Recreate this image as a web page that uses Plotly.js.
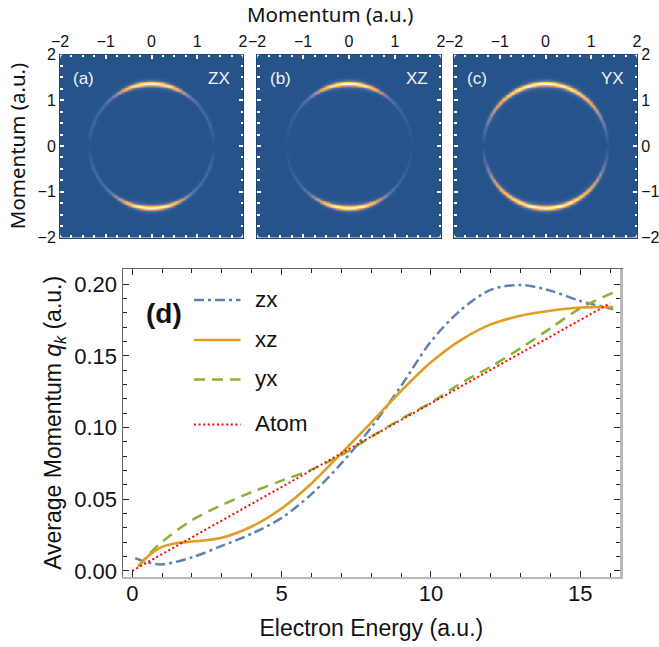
<!DOCTYPE html>
<html><head><meta charset="utf-8">
<script src="https://cdn.plot.ly/plotly-3.0.1.min.js"></script>
<style>html,body{margin:0;padding:0;background:#fff}#c{width:659px;height:647px}</style></head>
<body><div id="c"></div>
<script>
// ---- line panel (d) values
const zxE=[0.1,0.5,1,2,3,4,5,6,7,8,9,10,11,12,13,14,15,16.1];
const zxQ=[0.009,0.006,0.0046,0.0095,0.0175,0.026,0.037,0.0536,0.075,0.1,0.129,0.16,0.182,0.196,0.1994,0.1955,0.1883,0.1827];
const xzE=[0.2,0.6,1,1.5,2,3,4,5,6,7,8,9,10,11,12,13,14,15,16.1];
const xzQ=[0.0035,0.0115,0.0168,0.0195,0.0205,0.0232,0.031,0.0436,0.061,0.082,0.1035,0.1255,0.1455,0.161,0.172,0.178,0.1815,0.1837,0.1841];
const yxE=[0.2,0.6,1,2,3,4,5,6,7,8,9,10,11,12,13,14,15,16.1];
const yxQ=[0.003,0.0125,0.0204,0.0355,0.046,0.055,0.063,0.0707,0.0807,0.0935,0.106,0.1174,0.1309,0.1425,0.1553,0.1693,0.1832,0.1941];
const atomE=[0,1,5,7,10,16];
const atomQ=[0,0.0118,0.0587,0.082,0.117,0.1867];
const seriesNames=['zx','xz','yx','Atom'];
// ---- ring images: read brightness around the ring, its radial cross-section, faint inner rings
const ringDeg=[0,4,10,20,30,40,50,60,70,80,90];
const ampZX=[0,0.02,0.07,0.1,0.11,0.13,0.2,0.42,0.75,0.95,1];
const ampXZ=[0,0.01,0.03,0.05,0.08,0.11,0.19,0.4,0.75,0.95,1];
const ampYX=[0,0.04,0.11,0.2,0.36,0.52,0.66,0.8,0.9,0.97,1];
const ringRadius=1.355;
const crossDr=[-0.18,-0.12,-0.085,-0.06,-0.036,-0.018,0,0.018,0.036,0.06,0.085,0.12,0.18];
const crossW=[0,0.03,0.1,0.25,0.58,0.9,1,0.9,0.58,0.25,0.1,0.03,0];
const faintR=[0.55,0.7,0.85,0.97,1.07,1.16,1.24];
const faintZX=[0,0,0,0,0,0,0];
const faintXZ=[0.005,0.005,0.006,0.007,0.008,0.01,0.012];
const faintYX=[0.004,0.004,0.005,0.006,0.008,0.01,0.012];
const panelTags=['(a)','(b)','(c)'];
const panelNames=['ZX','XZ','YX'];

const W=659,H=647;
const fx=p=>p/W, fy=p=>1-p/H;
const FONT='Liberation Sans, Arial, sans-serif';
const HUM='"Noto Sans", sans-serif';

function lerp(xs,ys,x){
  if(x<=xs[0])return ys[0];
  for(let i=1;i<xs.length;i++) if(x<=xs[i]) return ys[i-1]+(ys[i]-ys[i-1])*(x-xs[i-1])/(xs[i]-xs[i-1]);
  return ys[ys.length-1];
}
function ringGrid(amp,faint){
  const n=241,ax=[],z=[];
  for(let i=0;i<n;i++)ax.push(-2+4*i/(n-1));
  for(const y of ax){const row=[];for(const x of ax){
    const r=Math.hypot(x,y),d=Math.abs(Math.atan2(y,x)*180/Math.PI),a=d>90?180-d:d;
    const am=lerp(ringDeg,amp,a);
    let v=am*Math.pow(lerp(crossDr,crossW,r-ringRadius),2-am);
    faint.forEach((f,k)=>{v+=f*Math.max(0,1-Math.abs(r-faintR[k])/0.025)});
    row.push(v);}z.push(row);}
  return {ax,z};
}
const scale=[[0,'#26538A'],[0.06,'#34609a'],[0.2,'#6578ae'],[0.35,'#b28f80'],[0.5,'#eaa23d'],[0.7,'#fcc663'],[0.88,'#ffe9b0'],[1,'#fff7dc']];
const panels=[[60,243,ampZX,faintZX],[257,441,ampXZ,faintXZ],[454,637,ampYX,faintYX]];
const topPx=54.5,botPx=237.5;
const layout={width:W,height:H,margin:{l:0,r:0,t:0,b:0},paper_bgcolor:'#fff',plot_bgcolor:'#fff',showlegend:false,annotations:[],shapes:[]};
const data=[];
panels.forEach((p,i)=>{
  const g=ringGrid(p[2],p[3]),k=i+1,xn='x'+k,yn='y'+k;
  data.push({type:'heatmap',x:g.ax,y:g.ax,z:g.z,xaxis:xn,yaxis:yn,colorscale:scale,zmin:0,zmax:1,showscale:false,hoverinfo:'skip'});
  const common={range:[-2,2],tick0:-2,dtick:1,ticks:'inside',ticklen:4,tickwidth:2,tickcolor:'#fff',
    minor:{tick0:-2,dtick:0.25,ticks:'inside',ticklen:2.5,tickwidth:2,tickcolor:'#fff'},showgrid:false,zeroline:false,
    showline:true,mirror:'ticks',linecolor:'#1d4478',linewidth:1,
    tickfont:{family:FONT,size:16,color:'#111'},layer:'above traces'};
  layout['xaxis'+k]=Object.assign({},common,{domain:[fx(p[0]),fx(p[1])],anchor:yn,side:'top',ticklabelstandoff:0});
  layout['yaxis'+k]=Object.assign({},common,{domain:[fy(botPx),fy(topPx)],anchor:xn,side:i===2?'right':'left',showticklabels:i!==1});
  // rounded picture corners
  const c=0.11,s=[[-2,2,1,-1],[2,2,-1,-1],[-2,-2,1,1],[2,-2,-1,1]];
  s.forEach(q=>{
    const a=q[0],b=q[1],dx=q[2]*c,dy=q[3]*c;
    layout.shapes.push({type:'path',xref:xn,yref:yn,layer:'above',line:{width:0},fillcolor:'#fff',
      path:`M${a},${b} L${a+dx},${b} Q${a},${b} ${a},${b+dy} Z`});
  });
  layout.annotations.push({xref:'paper',yref:'paper',x:fx(p[0]+11),y:fy(79),xanchor:'left',yanchor:'middle',showarrow:false,text:panelTags[i],font:{family:FONT,size:17,color:'#f2f2f2'}});
  layout.annotations.push({xref:'paper',yref:'paper',x:fx(p[1]-11),y:fy(79),xanchor:'right',yanchor:'middle',showarrow:false,text:panelNames[i],font:{family:FONT,size:17,color:'#f2f2f2'}});
});
layout.yaxis1.title={text:'Momentum (a.u.)',font:{family:HUM,size:20.5,color:'#111'},standoff:6};
layout.annotations.push({xref:'paper',yref:'paper',x:fx(330),y:fy(14),xanchor:'center',yanchor:'middle',showarrow:false,text:'Momentum (a.u.)',font:{family:HUM,size:20.5,color:'#111'}});

// ---- panel d
const L=122.7,R=620,T=269,B=576.7;
const xr=[-0.32,16.33],yr=[-0.004,0.2106];
const tickBase={showgrid:false,zeroline:false,ticks:'inside',tickwidth:1,tickcolor:'#222',ticklen:6};
const tf={family:FONT,size:22,color:'#111'};
const xMinor={tick0:0,dtick:1,ticks:'inside',ticklen:4,tickwidth:1,tickcolor:'#222'};
const yMinor={tick0:0,dtick:0.01,ticks:'inside',ticklen:4,tickwidth:1,tickcolor:'#222'};
layout.xaxis4=Object.assign({},tickBase,{domain:[fx(L),fx(R)],anchor:'y4',range:xr,tick0:0,dtick:5,
  minor:xMinor,showline:true,linecolor:'#b9b9b9',linewidth:2.5,tickfont:tf,ticklabelstandoff:-5,
  title:{text:'Electron Energy (a.u.)',font:{family:FONT,size:23,color:'#111'},standoff:16}});
layout.yaxis4=Object.assign({},tickBase,{domain:[fy(B),fy(T)],anchor:'x4',range:yr,tick0:0,dtick:0.05,tickformat:'.2f',
  minor:yMinor,showline:true,linecolor:'#666',linewidth:1.2,tickfont:tf,
  title:{text:'Average Momentum <i>q<sub>k</sub></i> (a.u.)',font:{family:FONT,size:23,color:'#111'},standoff:6}});
layout.xaxis5=Object.assign({},tickBase,{domain:[fx(L),fx(R)],anchor:'y5',overlaying:'x4',side:'top',range:xr,tick0:0,dtick:5,
  minor:xMinor,showline:true,linecolor:'#666',linewidth:1.2,showticklabels:false});
layout.yaxis5=Object.assign({},tickBase,{domain:[fy(B),fy(T)],anchor:'x5',overlaying:'y4',side:'right',range:yr,tick0:0,dtick:0.05,
  minor:yMinor,showline:true,linecolor:'#b9b9b9',linewidth:2.5,showticklabels:false});

const styles=[{color:'#5E81B5',width:2.5,dash:'10px,4px,3px,4px'},{color:'#E19C24',width:2.6,dash:'solid'},{color:'#8FB032',width:2.5,dash:'11px,7px'},{color:'#FF0000',width:2,dash:'2px,2.6px'}];
const xs=[zxE,xzE,yxE,atomE],ys=[zxQ,xzQ,yxQ,atomQ],orderIdx=[0,2,1,3];
orderIdx.forEach(i=>{
  data.push({type:'scatter',mode:'lines',name:seriesNames[i],x:xs[i],y:ys[i],xaxis:i===3?'x5':'x4',yaxis:i===3?'y5':'y4',
    line:Object.assign({},styles[i],{shape:i===3?'linear':'spline',smoothing:0.9})});
});
const legY=[300,340,379.5,424.5];
seriesNames.forEach((n,i)=>{
  layout.shapes.push({type:'line',xref:'paper',yref:'paper',x0:fx(194),x1:fx(240.5),y0:fy(legY[i]),y1:fy(legY[i]),line:styles[i]});
  layout.annotations.push({xref:'paper',yref:'paper',x:fx(252.5),y:fy(legY[i]-1),xanchor:'left',yanchor:'middle',showarrow:false,text:n,font:{family:FONT,size:22.5,color:'#111'}});
});
layout.annotations.push({xref:'paper',yref:'paper',x:fx(144),y:fy(314),xanchor:'left',yanchor:'middle',showarrow:false,text:'<b>(d)</b>',font:{family:FONT,size:28,color:'#111'}});
Plotly.newPlot('c',data,layout,{displayModeBar:false,staticPlot:true});
</script></body></html>
